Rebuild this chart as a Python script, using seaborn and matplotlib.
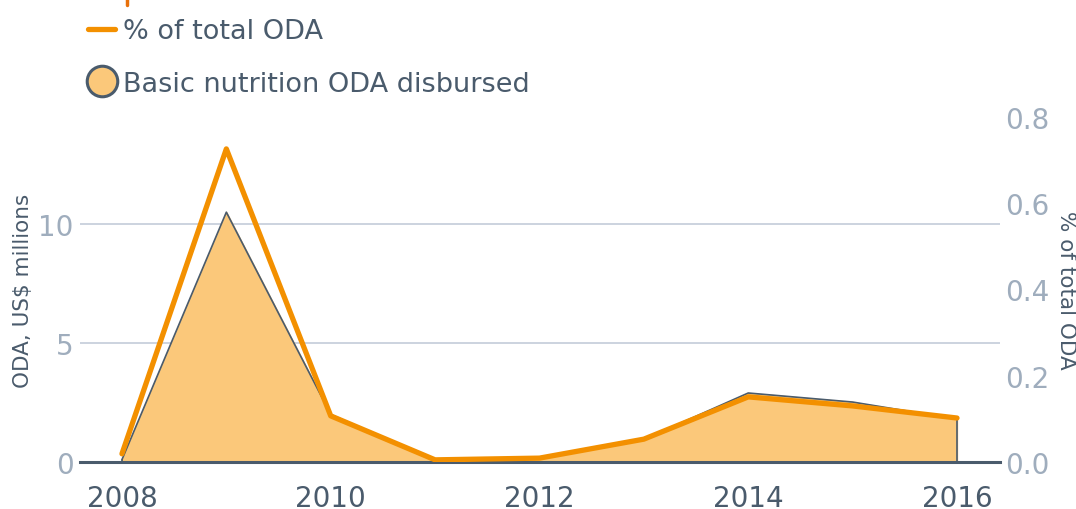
import matplotlib
matplotlib.use("Agg")
import matplotlib.pyplot as plt
from matplotlib.lines import Line2D
import numpy as np
import pandas as pd
import seaborn as sns

years = [2008, 2009, 2010, 2011, 2012, 2013, 2014, 2015, 2016]
oda_disbursed = [0.1, 10.5, 2.0, 0.05, 0.15, 0.95, 2.9, 2.52, 1.8]   # US$ millions
pct_total_oda = [0.019, 0.726, 0.107, 0.005, 0.009, 0.053, 0.151, 0.13, 0.102]

df = pd.DataFrame({"year": years, "oda": oda_disbursed, "pct": pct_total_oda})

sns.set_theme(style="white")
plt.rcParams['font.family'] = ['DejaVu Sans']

dark = '#4a5b6c'
light_tick = '#9fadbd'
orange = '#f39000'
fill_col = '#fbc87a'

fig = plt.figure(figsize=(10.76, 5.10), dpi=100)
ax = fig.add_axes([80/1076, 1 - 463/510, 920/1076, 345/510])

# area for the ODA disbursed
ax.fill_between(df['year'], df['oda'], 0, color=fill_col, zorder=2)
ax.plot(df['year'], df['oda'], color=dark, lw=1.2, zorder=3)
ax.plot([years[0], years[0]], [0, oda_disbursed[0]], color=dark, lw=1.2, zorder=3)
ax.plot([years[-1], years[-1]], [0, oda_disbursed[-1]], color=dark, lw=1.2, zorder=3)

ax.set_xlim(2007.598, 2016.412)
ax.set_ylim(0, 14.5)
ax.set_yticks([0, 5, 10])
ax.set_xticks([2008, 2010, 2012, 2014, 2016])
ax.yaxis.grid(True, color='#c8d0dc', lw=1.3)
ax.set_axisbelow(True)
for s in ['top', 'right', 'left']:
    ax.spines[s].set_visible(False)
ax.spines['bottom'].set_color(dark)
ax.spines['bottom'].set_linewidth(2.2)
ax.spines['bottom'].set_zorder(5)
ax.tick_params(axis='y', length=0, labelsize=20, labelcolor=light_tick, pad=4.5)
ax.tick_params(axis='x', length=0, labelsize=20, labelcolor=dark, pad=16)
ax.set_ylabel('ODA, US$ millions', fontsize=15.5, color=dark, va='center')
ax.yaxis.set_label_coords(-0.062, 0.5)

# right axis: share of total ODA
ax2 = ax.twinx()
sns.lineplot(data=df, x='year', y='pct', ax=ax2, color=orange, lw=3.8, zorder=4)
ax2.set_ylim(0, 0.8)
ax2.set_xlim(2007.598, 2016.412)
ax2.set_yticks([0, 0.2, 0.4, 0.6, 0.8])
ax2.set_yticklabels(['0.0', '0.2', '0.4', '0.6', '0.8'])
for s in ax2.spines.values():
    s.set_visible(False)
ax2.tick_params(axis='y', length=0, labelsize=20, labelcolor=light_tick, pad=3.5)
ax2.set_ylabel('% of total ODA', fontsize=15.5, color=dark, rotation=270, va='center')
ax2.yaxis.set_label_coords(1.0717, 0.5)
ax2.set_xlabel('')

# legend
handles = [
    Line2D([0], [0], color=orange, lw=3.8),
    Line2D([0], [0], marker='o', color='none', markerfacecolor=fill_col,
           markeredgecolor=dark, markeredgewidth=2.2, markersize=22),
]
leg = fig.legend(handles, ['% of total ODA', 'Basic nutrition ODA disbursed'],
                 loc='upper left', bbox_to_anchor=(88/1076, 1 - 19/510),
                 frameon=False, fontsize=19.5, labelcolor=dark,
                 handlelength=1.0, handletextpad=0.3, labelspacing=0.98,
                 borderaxespad=0, borderpad=0)

# cut-off marker at top edge
fig.add_artist(Line2D([127/1076, 127/1076], [1, 1 - 6/510], color='#e8700a', lw=2.5))

fig.savefig('out.png', dpi=100)
